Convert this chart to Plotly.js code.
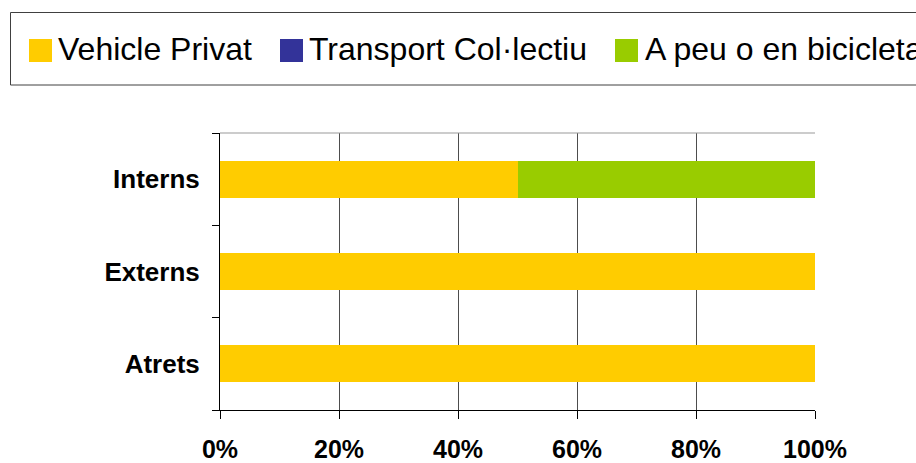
<!DOCTYPE html>
<html>
<head>
<meta charset="utf-8">
<script src="https://cdn.plot.ly/plotly-3.0.1.min.js"></script>
<style>html,body{margin:0;padding:0;background:#fff;}#chart{width:916px;height:463px;}</style>
</head>
<body>
<div id="chart"></div>
<script>
const categories = ["Atrets", "Externs", "Interns"];
const seriesNames = ["Vehicle Privat", "Transport Col·lectiu", "A peu o en bicicleta"];
const vehiclePrivat = [100, 100, 50];
const transportCollectiu = [0, 0, 0];
const apeuBicicleta = [0, 0, 50];
const xTickVals = [0, 20, 40, 60, 80, 100];
const xTickText = ["0%", "20%", "40%", "60%", "80%", "100%"];
const seriesColors = ["#FFCC00", "#333399", "#99CC00"];

const W = 916, H = 463;
const M = {l: 220, r: 101, t: 133, b: 53};
const pw = W - M.l - M.r, ph = H - M.t - M.b;
const px = x => (x - M.l) / pw;
const py = y => (H - M.b - y) / ph;

const seriesValues = [vehiclePrivat, transportCollectiu, apeuBicicleta];
const traces = seriesValues.map((vals, i) => ({
  type: "bar", orientation: "h", name: seriesNames[i],
  y: categories, x: vals,
  marker: {color: seriesColors[i], line: {width: 0}},
  showlegend: false, hoverinfo: "x+y+name"
}));

const font = "Liberation Sans, Arial, sans-serif";
const shapes = [
  {type: "rect", xref: "paper", yref: "paper", x0: px(10.5), x1: px(940), y0: py(12.5), y1: py(85), line: {color: "#404040", width: 1}, fillcolor: "rgba(0,0,0,0)"},
  {type: "line", xref: "paper", yref: "paper", x0: 0, x1: 1, y0: 1, y1: 1, line: {color: "#999999", width: 1}}
];
const swatchX = [29, 280, 615];
const textX = [57, 308, 644];
const annotations = [];
seriesNames.forEach((n, i) => {
  shapes.push({type: "rect", xref: "paper", yref: "paper", x0: px(swatchX[i]), x1: px(swatchX[i] + 23), y0: py(39), y1: py(62), fillcolor: seriesColors[i], line: {width: 0}});
  annotations.push({xref: "paper", yref: "paper", x: px(textX[i]), y: py(49.5), xanchor: "left", yanchor: "middle", text: n, showarrow: false, borderpad: 0, font: {family: font, size: 32, color: "#000"}});
});

const layout = {
  width: W, height: H,
  margin: M,
  paper_bgcolor: "#fff", plot_bgcolor: "#fff",
  barmode: "stack", bargap: 0.6,
  showlegend: false,
  font: {family: font, color: "#000"},
  xaxis: {
    range: [0, 100], tickvals: xTickVals, ticktext: xTickText,
    showgrid: true, gridcolor: "#4d4d4d", gridwidth: 1,
    showline: true, linecolor: "#000", linewidth: 1,
    ticks: "outside", ticklen: 8, tickcolor: "#000",
    tickfont: {family: font, size: 25, weight: "bold", color: "#000"},
    ticklabelstandoff: 9,
    zeroline: false, fixedrange: true
  },
  yaxis: {
    categoryorder: "array", categoryarray: categories,
    showline: true, linecolor: "#000", linewidth: 1,
    ticks: "outside", ticklen: 7, tickcolor: "#000", tickson: "boundaries",
    tickfont: {family: font, size: 26, weight: "bold", color: "#000"},
    ticklabelstandoff: 14,
    showgrid: false, zeroline: false, fixedrange: true
  },
  shapes: shapes,
  annotations: annotations
};
Plotly.newPlot("chart", traces, layout, {displayModeBar: false, staticPlot: true});
</script>
</body>
</html>
